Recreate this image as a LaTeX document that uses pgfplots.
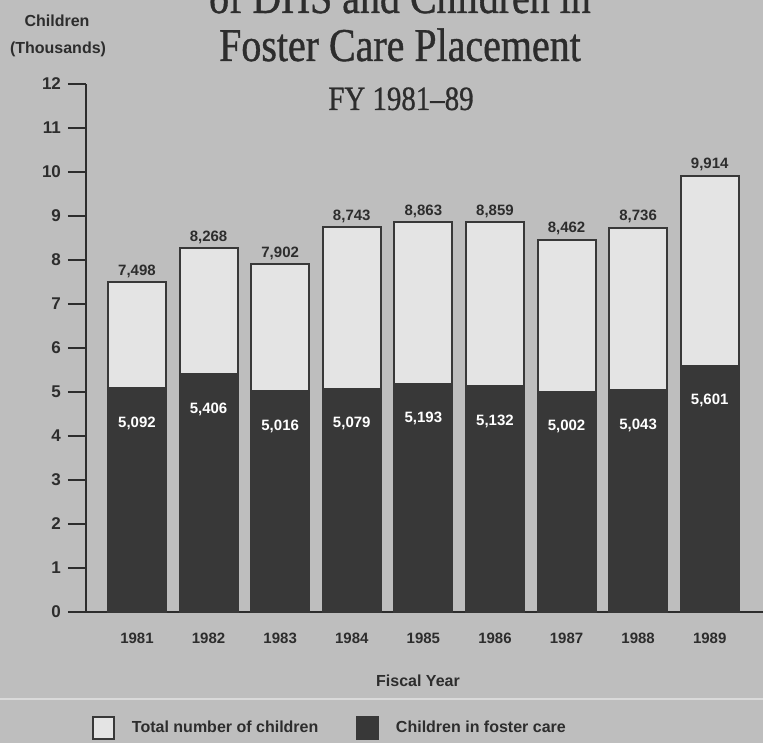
\documentclass[border=0pt]{standalone}
\usepackage{fontspec}
\setmainfont{Liberation Sans}
\newfontfamily\titlefont[FakeStretch=0.85, FakeBold=0.8]{Liberation Serif}
\usepackage{pgfplots}
\pgfplotsset{compat=1.18}
\usepackage{pgfplotstable}

\definecolor{bg}{RGB}{190,190,190}
\definecolor{lightbar}{RGB}{228,228,228}
\definecolor{darkbar}{RGB}{56,56,56}
\definecolor{ink}{RGB}{45,45,45}
\definecolor{sepline}{RGB}{218,218,218}

\pgfplotstableread{
x total tlabel
0 7.498 7,498
1 8.268 8,268
2 7.902 7,902
3 8.743 8,743
4 8.863 8,863
5 8.859 8,859
6 8.462 8,462
7 8.736 8,736
8 9.914 9,914
}\totals

\pgfplotstableread{
x foster flabel
0 5.092 5,092
1 5.406 5,406
2 5.016 5,016
3 5.079 5,079
4 5.193 5,193
5 5.132 5,132
6 5.002 5,002
7 5.043 5,043
8 5.601 5,601
}\foster

\newcommand{\PX}[2]{({((#1)-86)*0.5pt},{(612-(#2))*0.5pt})}

\begin{document}
\begin{tikzpicture}
\fill[bg] \PX{-10}{-10} rectangle \PX{775}{755};
\draw[sepline, line width=1pt] \PX{-10}{699} -- \PX{775}{699};

\begin{axis}[
  at={(0pt,0pt)}, anchor=south west,
  scale only axis, width=340.5pt, height=264pt,
  xmin=-0.712, xmax=8.8, ymin=0, ymax=12,
  axis lines=left,
  axis line style={-, ink, line width=1pt},
  clip=false,
  ybar, bar width=29pt, bar shift=0pt,
  ytick={0,1,...,12},
  xtick={0,1,...,8},
  xticklabels={1981,1982,1983,1984,1985,1986,1987,1988,1989},
  tick align=outside,
  major tick length=9pt,
  ytick style={ink, line width=1pt},
  xtick style={draw=none},
  /pgf/number format/assume math mode=true,
  yticklabel style={font=\bfseries\fontsize{8.5}{10}\selectfont, text=ink},
  xticklabel style={font=\bfseries\fontsize{7.5}{9}\selectfont, text=ink, yshift=2pt},
  legend columns=2,
  legend image code/.code={\draw[#1] (0pt,-5.5pt) rectangle (10.5pt,5.5pt);},
  legend style={at={(0.0088,-0.2197)}, anchor=west, draw=none, fill=none,
    inner sep=0pt,
    font=\bfseries\fontsize{8}{9.6}\selectfont, text=ink,
    /tikz/every odd column/.append style={column sep=6.5pt},
    /tikz/every even column/.append style={column sep=17pt}},
]
\addplot[forget plot, fill=lightbar, draw=darkbar, line width=1pt,
  nodes near coords, point meta=explicit symbolic,
  nodes near coords style={font=\bfseries\fontsize{7.5}{9}\selectfont, text=ink, anchor=base, yshift=3.5pt}]
  table[x=x, y=total, meta=tlabel]{\totals};
\addplot[forget plot, fill=darkbar, draw=darkbar, line width=1pt,
  nodes near coords, point meta=explicit symbolic,
  nodes near coords style={font=\bfseries\fontsize{7.5}{9}\selectfont, text=white, anchor=center, yshift=-17.5pt}]
  table[x=x, y=foster, meta=flabel]{\foster};
\addlegendimage{fill=lightbar, draw=darkbar, line width=0.8pt}
\addlegendentry{Total number of children}
\addlegendimage{fill=darkbar, draw=darkbar, line width=0.8pt}
\addlegendentry{Children in foster care}
\end{axis}

\node[anchor=base, text=ink, font=\titlefont\fontsize{23.5}{28}\selectfont] at \PX{400}{13} {of DHS and Children in};
\node[anchor=base, text=ink, font=\titlefont\fontsize{23.5}{28}\selectfont] at \PX{400}{61} {Foster Care Placement};
\node[anchor=base, text=ink, font=\titlefont\fontsize{17}{20}\selectfont] at \PX{401}{110} {FY 1981\textendash 89};
\node[anchor=base, text=ink, font=\bfseries\fontsize{8}{9.6}\selectfont] at \PX{57}{27} {Children};
\node[anchor=base, text=ink, font=\bfseries\fontsize{8}{9.6}\selectfont] at \PX{58}{54} {(Thousands)};
\node[anchor=center, text=ink, font=\bfseries\fontsize{8}{9.6}\selectfont] at \PX{418}{681} {Fiscal Year};

\pgfresetboundingbox
\path[use as bounding box] \PX{0}{0} rectangle \PX{763}{742};
\end{tikzpicture}
\end{document}
